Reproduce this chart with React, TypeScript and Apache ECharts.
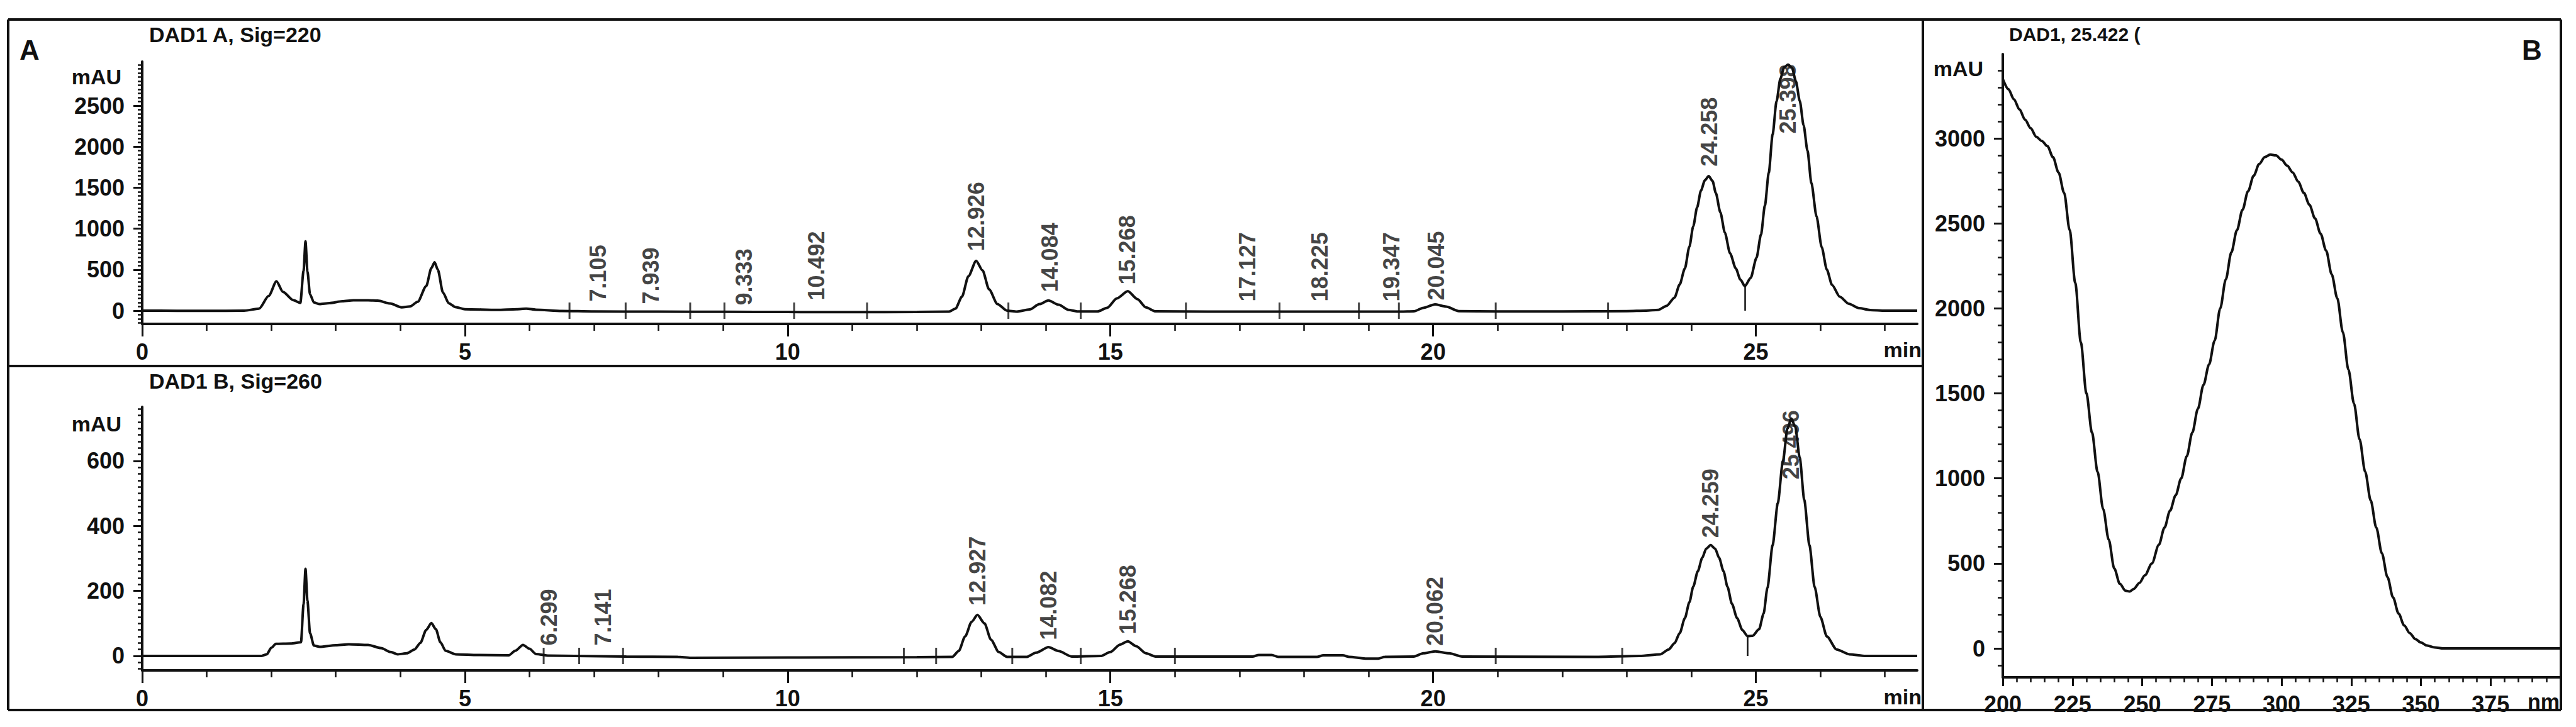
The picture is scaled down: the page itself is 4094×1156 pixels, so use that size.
import React, { useEffect, useRef } from "react";
import * as echarts from "echarts";

const FONT = '"Liberation Sans", Arial, Helvetica, sans-serif';
const INK = "#111";

// ---- Chromatogram A: DAD1 A, Sig=220  [time (min), mAU]
const chromA: number[][] = [
  [0, 0], [1.0, -2], [1.58, 0], [1.81, 25], [1.96, 180], [2.08, 358], [2.18, 230], [2.34, 128], [2.45, 95],
  [2.5, 486], [2.53, 845], [2.56, 480], [2.6, 200], [2.66, 100], [2.75, 80], [2.9, 92], [3.1, 115], [3.27, 126],
  [3.5, 126], [3.65, 122], [3.84, 88], [4.02, 40], [4.15, 52], [4.27, 110], [4.4, 300], [4.48, 520], [4.53, 590],
  [4.58, 500], [4.66, 220], [4.75, 90], [4.85, 45], [5.0, 18], [5.5, 10], [5.8, 18], [5.95, 25], [6.1, 12],
  [6.5, -3], [7.0, -10], [8.0, -12], [9.0, -14], [10.0, -16], [11.0, -18], [12.0, -16], [12.5, -12], [12.6, 25],
  [12.7, 170], [12.8, 420], [12.92, 608], [13.02, 490], [13.12, 260], [13.25, 80], [13.4, 0], [13.55, -12],
  [13.75, 15], [13.9, 80], [14.04, 125], [14.2, 72], [14.35, 10], [14.5, -10], [14.8, -10], [14.95, 35],
  [15.1, 150], [15.27, 238], [15.42, 140], [15.55, 40], [15.7, -8], [16.5, -12], [17.5, -12], [18.5, -12],
  [19.5, -12], [19.7, -8], [19.85, 35], [20.03, 77], [20.2, 50], [20.4, -5], [21.0, -10], [22.0, -10], [23.0, -5],
  [23.3, 0], [23.49, 10], [23.62, 60], [23.74, 160], [23.82, 320], [23.9, 514], [23.97, 780], [24.03, 1028],
  [24.09, 1260], [24.15, 1465], [24.21, 1590], [24.27, 1641], [24.33, 1580], [24.38, 1434], [24.45, 1200],
  [24.52, 951], [24.6, 700], [24.69, 514], [24.76, 380], [24.83, 299], [24.92, 400], [25.01, 644], [25.08, 930],
  [25.14, 1281], [25.2, 1680], [25.26, 2150], [25.32, 2550], [25.38, 2830], [25.44, 2970], [25.5, 3000],
  [25.56, 2960], [25.62, 2800], [25.68, 2560], [25.74, 2260], [25.8, 1950], [25.86, 1560], [25.94, 1150],
  [26.02, 775], [26.1, 500], [26.18, 315], [26.3, 170], [26.44, 84], [26.6, 30], [26.77, 8], [27.0, 0], [27.5, 0],
];

// ---- Chromatogram B: DAD1 B, Sig=260  [time (min), mAU]
const chromB: number[][] = [
  [0, 0], [1.85, 0], [1.93, 5], [2.0, 25], [2.07, 37], [2.3, 38], [2.46, 42], [2.5, 159], [2.53, 268], [2.56, 170],
  [2.6, 70], [2.66, 32], [2.75, 28], [3.0, 33], [3.2, 36], [3.5, 34], [3.7, 24], [3.85, 12], [3.96, 5], [4.1, 8],
  [4.22, 20], [4.31, 40], [4.4, 80], [4.48, 101], [4.55, 82], [4.62, 42], [4.7, 16], [4.86, 5], [5.2, 3],
  [5.68, 2], [5.78, 16], [5.9, 34], [6.0, 22], [6.1, 6], [6.3, 1], [6.7, 0], [7.5, -2], [8.3, -3], [8.5, -6],
  [10.0, -5], [12.0, -4], [12.55, -3], [12.65, 15], [12.75, 60], [12.85, 105], [12.94, 126], [13.05, 100],
  [13.15, 50], [13.27, 12], [13.4, -3], [13.7, -3], [13.85, 10], [14.04, 27], [14.2, 15], [14.4, -2],
  [14.85, 0], [15.0, 12], [15.15, 35], [15.27, 45], [15.4, 30], [15.55, 8], [15.7, -2], [17.2, -2], [17.3, 3],
  [17.5, 3], [17.6, -3], [18.2, -3], [18.3, 2], [18.6, 2], [18.7, -3], [18.95, -8], [19.15, -8], [19.25, -3],
  [19.7, -2], [19.85, 8], [20.03, 14], [20.25, 8], [20.45, -2], [22.5, -3], [23.2, 0], [23.52, 5], [23.65, 20],
  [23.74, 39], [23.82, 70], [23.9, 116], [23.97, 165], [24.03, 213], [24.1, 260], [24.17, 302], [24.23, 330],
  [24.3, 341], [24.37, 330], [24.43, 302], [24.5, 260], [24.56, 213], [24.63, 160], [24.71, 116], [24.79, 80],
  [24.87, 61], [24.95, 62], [25.05, 82], [25.12, 130], [25.18, 210], [25.26, 341], [25.34, 470], [25.42, 600],
  [25.49, 700], [25.55, 730], [25.61, 705], [25.68, 610], [25.75, 480], [25.83, 341], [25.91, 213], [26.0, 120],
  [26.1, 60], [26.25, 20], [26.45, 5], [26.7, 0], [27.5, 0],
];

// ---- UV spectrum at 25.422 min  [wavelength (nm), mAU]
const spectrum: number[][] = [
  [200, 3350], [202, 3290], [204, 3230], [206, 3170], [208, 3110], [210, 3060], [212, 3010], [214, 2985],
  [216, 2955], [218, 2890], [220, 2800], [222, 2680], [224, 2460], [226, 2150], [228, 1800], [230, 1500],
  [232, 1270], [234, 1040], [236, 820], [238, 640], [240, 470], [242, 380], [244, 340], [245.5, 335], [247, 350],
  [249, 385], [251, 430], [253.5, 500], [256, 610], [258, 710], [260, 810], [262, 900], [264, 1000], [266, 1130],
  [268, 1270], [270, 1410], [272, 1550], [274, 1670], [276, 1810], [278, 2000], [280, 2170], [282, 2330],
  [284, 2460], [286, 2580], [288, 2690], [290, 2780], [292, 2850], [294, 2890], [296, 2905], [298, 2900],
  [300, 2875], [302, 2840], [304, 2800], [306, 2745], [308, 2680], [310, 2610], [312, 2530], [314, 2440],
  [316, 2340], [318, 2200], [320, 2060], [322, 1860], [324, 1640], [326, 1440], [328, 1230], [330, 1040],
  [332, 870], [334, 710], [336, 560], [338, 420], [340, 300], [342, 205], [344, 135], [346, 90], [348, 55],
  [350, 35], [352, 18], [355, 6], [358, 0], [400, 0],
];

// ---- Retention-time annotations
const peakLabelsA = ["7.105", "7.939", "9.333", "10.492", "12.926", "14.084", "15.268", "17.127", "18.225", "19.347", "20.045", "24.258", "25.398"];
const peakLabelTimeA = [7.06, 7.88, 9.32, 10.45, 12.92, 14.06, 15.26, 17.12, 18.24, 19.36, 20.05, 24.28, 25.5];
const peakLabelLevelA = [108, 77, 62, 123, 723, 223, 315, 108, 108, 108, 123, 1754, 2155];

const peakLabelsB = ["6.299", "7.141", "12.927", "14.082", "15.268", "20.062", "24.259", "25.496"];
const peakLabelTimeB = [6.3, 7.14, 12.94, 14.04, 15.27, 20.03, 24.3, 25.55];
const peakLabelLevelB = [31, 31, 154, 48, 66, 30, 362, 542];

// integration event marks (min)
const eventTimesA = [6.62, 7.49, 8.49, 9.02, 10.1, 11.23, 13.42, 14.54, 16.17, 17.62, 18.85, 19.47, 20.97, 22.71];
const eventTimesB = [6.22, 6.77, 7.45, 11.8, 12.3, 13.48, 14.54, 16.0, 20.97, 22.93];

// valley drop lines [time, mAU]
const valleyA = [24.83, 299];
const valleyB = [24.87, 61];

// ---- Axis ticks
const xTicksChrom = [0, 5, 10, 15, 20, 25];
const yTicksA = [0, 500, 1000, 1500, 2000, 2500];
const yTicksB = [0, 200, 400, 600];
const xTicksSpec = [200, 225, 250, 275, 300, 325, 350, 375];
const yTicksSpec = [0, 500, 1000, 1500, 2000, 2500, 3000];

const steps = (a: number, b: number, s: number) => {
  const out: number[] = [];
  for (let v = a; v <= b + 1e-9; v += s) out.push(Math.round(v * 1000) / 1000);
  return out;
};
const xMinorChrom = steps(0, 27, 1);
const yMinorA = steps(-150, 3000, 50);
const yMinorB = steps(-40, 760, 20);
const xMinorSpec = steps(200, 400, 5);
const yMinorSpec = steps(-100, 3400, 100);

const labelStyle = { fontFamily: FONT, fontSize: 36, color: INK, fontWeight: "bold" };

function mainAxis(gridIndex: number, min: number, max: number, ticks: number[], dim: "x" | "y", margin: number, tickLen: number) {
  return {
    type: "value",
    gridIndex,
    min,
    max,
    position: dim === "x" ? "bottom" : "left",
    axisLine: { show: true, onZero: false, lineStyle: { color: INK, width: 4 } },
    axisTick: { show: true, customValues: ticks, length: tickLen, lineStyle: { color: INK, width: 3 } },
    axisLabel: {
      show: true,
      customValues: ticks,
      margin,
      formatter: (v: number) => String(v),
      ...labelStyle,
    },
    splitLine: { show: false },
  };
}
function minorAxis(gridIndex: number, min: number, max: number, ticks: number[], dim: "x" | "y", tickLen: number) {
  return {
    type: "value",
    gridIndex,
    min,
    max,
    position: dim === "x" ? "bottom" : "left",
    offset: 0,
    axisLine: { show: false, onZero: false },
    axisTick: { show: true, customValues: ticks, length: tickLen, lineStyle: { color: INK, width: 2.5 } },
    axisLabel: { show: false },
    splitLine: { show: false },
  };
}

function labelSeries(xi: number, yi: number, labels: string[], times: number[], levels: number[]) {
  return {
    type: "scatter",
    xAxisIndex: xi,
    yAxisIndex: yi,
    symbolSize: 1,
    itemStyle: { color: "rgba(0,0,0,0)" },
    silent: true,
    data: labels.map((t, i) => ({ name: t, value: [times[i], levels[i]] })),
    label: {
      show: true,
      position: "top",
      distance: 0,
      rotate: 90,
      align: "left",
      verticalAlign: "middle",
      formatter: "{b}",
      ...labelStyle,
    },
    z: 5,
  };
}
function eventSeries(xi: number, yi: number, times: number[]) {
  return {
    type: "scatter",
    xAxisIndex: xi,
    yAxisIndex: yi,
    symbol: "rect",
    symbolSize: [3, 26],
    itemStyle: { color: INK },
    silent: true,
    data: times.map((t) => [t, 0]),
  };
}
function dropLine(v: number[]) {
  return {
    silent: true,
    symbol: "none",
    label: { show: false },
    lineStyle: { color: INK, width: 2.5, type: "solid" },
    data: [[{ coord: [v[0], v[1]] }, { coord: [v[0], 0] }]],
  };
}

function text(x: number, y: number, t: string, size: number, align = "left", weight = "bold") {
  return {
    type: "text",
    x,
    y,
    silent: true,
    style: { text: t, fontFamily: FONT, fontSize: size, fontWeight: weight, fill: INK, align, verticalAlign: "middle" },
  };
}
function hline(x1: number, x2: number, y: number, w = 4) {
  return { type: "line", silent: true, shape: { x1, y1: y, x2, y2: y }, style: { stroke: INK, lineWidth: w } };
}
function vline(x: number, y1: number, y2: number, w = 4) {
  return { type: "line", silent: true, shape: { x1: x, y1, x2: x, y2 }, style: { stroke: INK, lineWidth: w } };
}

export default function App() {
  const ref = useRef<HTMLDivElement>(null);

  useEffect(() => {
    if (!ref.current) return;
    const chart = echarts.init(ref.current, null, { renderer: "svg" });

    const lineStyle = { color: INK, width: 4 };
    const option = {
      animation: false,
      backgroundColor: "#fff",
      grid: [
        { left: 226, top: 98, width: 2821, height: 417 },
        { left: 226, top: 647, width: 2821, height: 419 },
        { left: 3183, top: 86, width: 886, height: 991 },
      ],
      xAxis: [
        mainAxis(0, 0, 27.5, xTicksChrom, "x", 26, 20),
        minorAxis(0, 0, 27.5, xMinorChrom, "x", 11),
        mainAxis(1, 0, 27.5, xTicksChrom, "x", 26, 20),
        minorAxis(1, 0, 27.5, xMinorChrom, "x", 11),
        mainAxis(2, 200, 400, xTicksSpec, "x", 24, 14),
        minorAxis(2, 200, 400, xMinorSpec, "x", 8),
      ],
      yAxis: [
        mainAxis(0, -161, 3037, yTicksA, "y", 28, 14),
        minorAxis(0, -161, 3037, yMinorA, "y", 7),
        mainAxis(1, -44.5, 766, yTicksB, "y", 28, 14),
        minorAxis(1, -44.5, 766, yMinorB, "y", 7),
        mainAxis(2, -170, 3496, yTicksSpec, "y", 28, 14),
        minorAxis(2, -170, 3496, yMinorSpec, "y", 8),
      ],
      series: [
        {
          type: "line", xAxisIndex: 0, yAxisIndex: 0, data: chromA, showSymbol: false,
          smooth: 0.25, smoothMonotone: "x", lineStyle, silent: true, markLine: dropLine(valleyA),
        },
        {
          type: "line", xAxisIndex: 2, yAxisIndex: 2, data: chromB, showSymbol: false,
          smooth: 0.25, smoothMonotone: "x", lineStyle, silent: true, markLine: dropLine(valleyB),
        },
        {
          type: "line", xAxisIndex: 4, yAxisIndex: 4, data: spectrum, showSymbol: false,
          smooth: 0.3, smoothMonotone: "x", lineStyle, silent: true,
        },
        labelSeries(0, 0, peakLabelsA, peakLabelTimeA, peakLabelLevelA),
        labelSeries(2, 2, peakLabelsB, peakLabelTimeB, peakLabelLevelB),
        eventSeries(0, 0, eventTimesA),
        eventSeries(2, 2, eventTimesB),
      ],
      graphic: {
        elements: [
          // frames
          hline(13, 4070, 31),
          hline(13, 4070, 1129),
          vline(13, 31, 1129),
          vline(4070, 31, 1129),
          vline(3056, 31, 1129),
          hline(13, 3056, 582),
          // panel titles
          text(31, 79, "A", 44),
          text(4008, 79, "B", 44),
          text(237, 55, "DAD1 A, Sig=220", 34),
          text(237, 606, "DAD1 B, Sig=260", 34),
          text(3193, 54, "DAD1, 25.422 (", 30),
          // unit labels
          text(193, 122, "mAU", 34, "right"),
          text(193, 674, "mAU", 34, "right"),
          text(3152, 109, "mAU", 34, "right"),
          text(3054, 556, "min", 34, "right"),
          text(3054, 1108, "min", 34, "right"),
          text(4068, 1115, "nm", 34, "right"),
        ],
      },
    };

    chart.setOption(option as any);
    return () => chart.dispose();
  }, []);

  return (
    <div
      ref={ref}
      style={{ position: "fixed", left: 0, top: 0, width: 4094, height: 1156, background: "#fff" }}
    />
  );
}
